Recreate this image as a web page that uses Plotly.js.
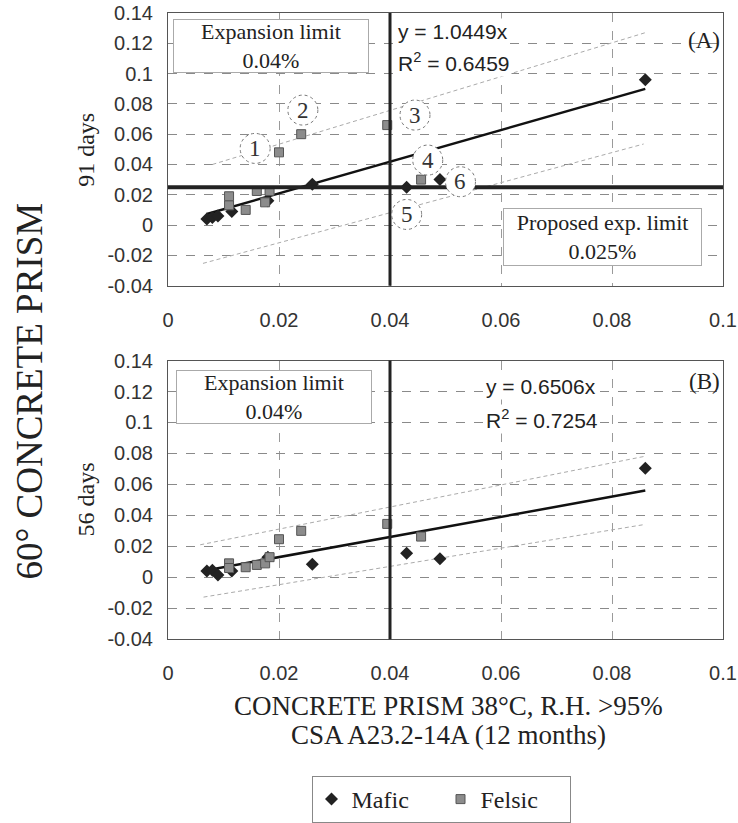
<!DOCTYPE html>
<html><head><meta charset="utf-8">
<script src="https://cdn.plot.ly/plotly-3.0.1.min.js"></script>
<style>html,body{margin:0;padding:0;background:#fff}#chart{width:738px;height:823px}</style>
</head><body><div id="chart"></div>
<script>
// ---- data ----
const maficX   = [0.007, 0.008, 0.009, 0.0115, 0.018, 0.026, 0.043, 0.049, 0.086];
const mafic91  = [0.004, 0.005, 0.006, 0.009, 0.016, 0.027, 0.025, 0.030, 0.096];
const mafic56  = [0.004, 0.0045, 0.0015, 0.004, 0.013, 0.0085, 0.0155, 0.012, 0.0705];
const felsicX  = [0.011, 0.011, 0.014, 0.016, 0.0175, 0.0183, 0.020, 0.024, 0.0395, 0.0456];
const felsic91 = [0.019, 0.013, 0.010, 0.0225, 0.015, 0.0225, 0.048, 0.060, 0.066, 0.030];
const felsic56 = [0.009, 0.006, 0.0065, 0.008, 0.009, 0.013, 0.0246, 0.030, 0.0345, 0.0263];

const trendAx = [0.007, 0.086],  trendAy = [0.0073, 0.0899];
const upperAx = [0.008, 0.086],  upperAy = [0.040, 0.127];
const lowerAx = [0.0063, 0.0857], lowerAy = [-0.0253, 0.0535];
const trendBx = [0.007, 0.086],  trendBy = [0.0046, 0.056];
const upperBx = [0.0058, 0.0857], upperBy = [0.021, 0.078];
const lowerBx = [0.0064, 0.0857], lowerBy = [-0.0128, 0.034];

const expLimit = 0.04;
const propLimit = 0.025;

const xTickVals = [0, 0.02, 0.04, 0.06, 0.08, 0.1];
const xTickText = ['0', '0.02', '0.04', '0.06', '0.08', '0.1'];
const yTickVals = [-0.04, -0.02, 0, 0.02, 0.04, 0.06, 0.08, 0.1, 0.12, 0.14];
const yTickText = ['-0.04', '-0.02', '0', '0.02', '0.04', '0.06', '0.08', '0.1', '0.12', '0.14'];

const circleLabels = ['1', '2', '3', '4', '5', '6'];
const circleX = [0.0157, 0.0243, 0.0445, 0.0468, 0.043, 0.0527];
const circleY = [0.0506, 0.0759, 0.0726, 0.0429, 0.007, 0.0286];

// ---- styling ----
const W = 738, H = 823;
const SERIF = 'Liberation Serif, Times New Roman, serif';
const SANS = 'Liberation Sans, Arial, sans-serif';
const px = v => v / W, py = v => 1 - v / H;

const mafMarker = {symbol: 'diamond', size: 10, color: '#222'};
const felMarker = {symbol: 'square', size: 9, color: '#8c8c8c', line: {color: '#555', width: 1}};
const trendLine = {color: '#111', width: 2.5};
const bandLine = {color: '#aaa', width: 1, dash: '4px,3px'};

function pair(xa, ya, show) {
  return [
    {x: xa[0], y: ya[0], mode: 'lines', line: bandLine, xaxis: show.x, yaxis: show.y, showlegend: false, hoverinfo: 'skip'},
    {x: xa[1], y: ya[1], mode: 'lines', line: bandLine, xaxis: show.x, yaxis: show.y, showlegend: false, hoverinfo: 'skip'},
    {x: xa[2], y: ya[2], mode: 'lines', line: trendLine, xaxis: show.x, yaxis: show.y, showlegend: false, hoverinfo: 'skip'}
  ];
}

const traces = [
  ...pair([upperAx, lowerAx, trendAx], [upperAy, lowerAy, trendAy], {x: 'x', y: 'y'}),
  ...pair([upperBx, lowerBx, trendBx], [upperBy, lowerBy, trendBy], {x: 'x2', y: 'y2'}),
  {x: maficX, y: mafic91, mode: 'markers', name: 'Mafic', marker: mafMarker, xaxis: 'x', yaxis: 'y', legendgroup: 'm'},
  {x: felsicX, y: felsic91, mode: 'markers', name: 'Felsic', marker: felMarker, xaxis: 'x', yaxis: 'y', legendgroup: 'f'},
  {x: maficX, y: mafic56, mode: 'markers', name: 'Mafic', marker: mafMarker, xaxis: 'x2', yaxis: 'y2', showlegend: false, legendgroup: 'm'},
  {x: felsicX, y: felsic56, mode: 'markers', name: 'Felsic', marker: felMarker, xaxis: 'x2', yaxis: 'y2', showlegend: false, legendgroup: 'f'}
];

const xDom = [px(168), px(723)];
const topDom = [py(286), py(13)];
const botDom = [py(640), py(361)];

function xAxis(anchor) {
  return {domain: xDom, anchor: anchor, range: [0, 0.1], tickvals: xTickVals, ticktext: xTickText,
    showgrid: true, gridcolor: '#9a9a9a', griddash: 'dash', gridwidth: 1, zeroline: false,
    showline: true, mirror: true, linecolor: '#555', linewidth: 1, ticks: '',
    ticklabelstandoff: 16, tickfont: {family: SANS, size: 20, color: '#333'}};
}
function yAxis(anchor, dom) {
  return {domain: dom, anchor: anchor, range: [-0.04, 0.14], tickvals: yTickVals, ticktext: yTickText,
    showgrid: true, gridcolor: '#8a8a8a', griddash: 'dash', gridwidth: 1, zeroline: false,
    showline: true, mirror: true, linecolor: '#555', linewidth: 1, ticks: '',
    ticklabelstandoff: 10, tickfont: {family: SANS, size: 20, color: '#333'}};
}

const shapes = [
  {type: 'line', xref: 'x', yref: 'y domain', x0: expLimit, x1: expLimit, y0: 0, y1: 1, line: {color: '#222', width: 3}, layer: 'above'},
  {type: 'line', xref: 'x2', yref: 'y2 domain', x0: expLimit, x1: expLimit, y0: 0, y1: 1, line: {color: '#222', width: 3}, layer: 'above'},
  {type: 'line', xref: 'x domain', yref: 'y', x0: 0, x1: 1, y0: propLimit, y1: propLimit, line: {color: '#222', width: 4}, layer: 'above'}
];
circleLabels.forEach((t, i) => {
  shapes.push({type: 'circle', xref: 'x', yref: 'y', xsizemode: 'pixel', ysizemode: 'pixel',
    xanchor: circleX[i], yanchor: circleY[i], x0: -15, x1: 15, y0: -15, y1: 15,
    line: {color: '#777', width: 1, dash: 'dot'}, fillcolor: 'white', layer: 'above'});
});

function ann(text, x, y, o) {
  return Object.assign({text: text, xref: 'paper', yref: 'paper', x: px(x), y: py(y), xanchor: 'center', yanchor: 'middle',
    showarrow: false, font: {family: SERIF, size: 23, color: '#222'}}, o || {});
}

const boxFont = {family: SERIF, size: 22, color: '#222'};
const eqFont = {family: SANS, size: 21, color: '#222'};
const annotations = [
  ann('Expansion limit<br>0.04%', 271, 46, {width: 190, height: 48, bgcolor: 'white', bordercolor: '#aaa', borderwidth: 1, borderpad: 2, font: boxFont}),
  ann('Expansion limit<br>0.04%', 274, 397, {width: 190, height: 48, bgcolor: 'white', bordercolor: '#aaa', borderwidth: 1, borderpad: 2, font: boxFont}),
  ann('Proposed exp. limit<br>0.025%', 602, 237, {width: 193, height: 52, bgcolor: 'white', bordercolor: '#aaa', borderwidth: 1, borderpad: 2, font: boxFont}),
  ann('y = 1.0449x', 396, 32, {xanchor: 'left', bgcolor: 'white', font: eqFont}),
  ann('R<sup>2</sup> = 0.6459', 396, 62, {xanchor: 'left', bgcolor: 'white', font: eqFont}),
  ann('y = 0.6506x', 484, 387, {xanchor: 'left', bgcolor: 'white', font: eqFont}),
  ann('R<sup>2</sup> = 0.7254', 484, 420, {xanchor: 'left', bgcolor: 'white', font: eqFont}),
  ann('(A)', 704, 41, {font: {family: SERIF, size: 23, color: '#222'}}),
  ann('(B)', 704, 382, {font: {family: SERIF, size: 23, color: '#222'}}),
  ann('91 days', 86, 150, {textangle: -90, font: {family: SERIF, size: 24, color: '#222'}}),
  ann('56 days', 86, 500, {textangle: -90, font: {family: SERIF, size: 24, color: '#222'}}),
  ann('60° CONCRETE PRISM', 30, 392, {textangle: -90, font: {family: SERIF, size: 37, color: '#222'}}),
  ann('CONCRETE PRISM 38°C, R.H. >95%', 448, 707, {font: {family: SERIF, size: 27, color: '#222'}}),
  ann('CSA A23.2-14A (12 months)', 448, 736, {font: {family: SERIF, size: 27, color: '#222'}})
];
circleLabels.forEach((t, i) => {
  annotations.push({text: t, xref: 'x', yref: 'y', x: circleX[i], y: circleY[i], showarrow: false,
    font: {family: SERIF, size: 23, color: '#333'}});
});

const layout = {
  width: W, height: H, margin: {l: 0, r: 0, t: 0, b: 0},
  paper_bgcolor: 'white', plot_bgcolor: 'white',
  xaxis: xAxis('y'), yaxis: yAxis('x', topDom),
  xaxis2: xAxis('y2'), yaxis2: yAxis('x2', botDom),
  shapes: shapes, annotations: annotations,
  showlegend: true,
  legend: {orientation: 'h', x: px(441), xanchor: 'center', y: py(777), yanchor: 'top',
    entrywidth: 84, itemwidth: 30,
    bordercolor: '#888', borderwidth: 1, bgcolor: 'white', font: {family: SERIF, size: 24, color: '#222'}}
};

Plotly.newPlot('chart', traces, layout, {displayModeBar: false, staticPlot: true});
</script></body></html>
